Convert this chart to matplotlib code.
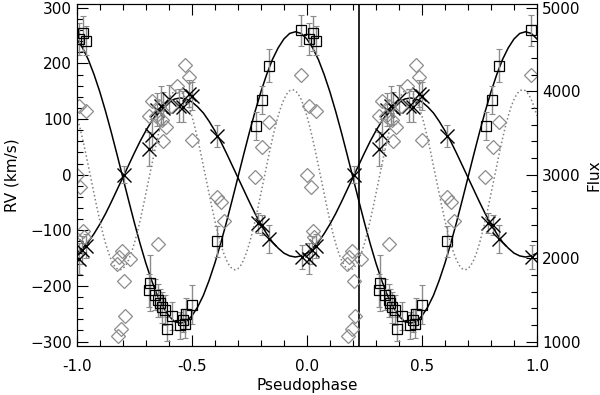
import numpy as np
import matplotlib
matplotlib.use('Agg')
import matplotlib.pyplot as plt
from matplotlib.ticker import MultipleLocator

# phase-folded data, phases in [0, 1), drawn at phase-1 and phase
sq_phase = [0.009, 0.027, 0.040, 0.314, 0.318, 0.340, 0.355, 0.363, 0.372, 0.384, 0.392,
            0.414, 0.448, 0.462, 0.470, 0.476, 0.501, 0.610, 0.778, 0.806, 0.836, 0.973]
sq_rv = [244, 254, 241, -208, -195, -216, -226, -231, -238, -243, -277,
         -254, -271, -262, -268, -250, -234, -120, 88, 135, 196, 260]
sq_err = [28, 32, 26, 30, 50, 28, 30, 25, 28, 27, 22,
          25, 25, 20, 26, 28, 35, 28, 25, 25, 30, 28]

cr_phase = [0.009, 0.023, 0.038, 0.205, 0.314, 0.325, 0.350, 0.364, 0.375, 0.400,
            0.444, 0.463, 0.488, 0.502, 0.611, 0.786, 0.807, 0.837, 0.980]
cr_rv = [-151, -135, -128, 0, 46, 72, 117, 124, 120, 136,
         124, 122, 146, 141, 69, -87, -90, -115, -148]
cr_err = [28, 25, 22, 15, 30, 28, 30, 35, 28, 25,
          30, 28, 25, 25, 20, 18, 18, 25, 22]

fl_phase = [0.000, 0.009, 0.016, 0.027, 0.032, 0.038, 0.176, 0.180, 0.183, 0.194, 0.197,
            0.204, 0.209, 0.233, 0.313, 0.328, 0.343, 0.355, 0.357, 0.372, 0.375, 0.386,
            0.408, 0.437, 0.472, 0.487, 0.502, 0.611, 0.625, 0.640, 0.776, 0.807, 0.837, 0.976]
fl_val = [3000, 3826, 2853, 2321, 2250, 3766, 1930, 1072, 2014, 1152, 2082,
          1722, 1303, 1990, 3707, 3878, 3698, 2174, 3818, 3659, 3399, 3566,
          3818, 4066, 4317, 4170, 3411, 2733, 2673, 2441, 2970, 3327, 3626, 4198]

# fitted orbits, one cycle sampled every 0.025 in phase
model_phase = [i * 0.025 for i in range(40)]
model_sq = [244, 228, 207, 180, 149, 114, 76, 36, -5, -46, -86, -124, -159, -190, -217, -238,
            -254, -264, -267, -264, -254, -238, -217, -190, -159, -124, -86, -46, -5, 36,
            76, 114, 149, 180, 207, 228, 244, 254, 257, 254]
model_cr = [-141, -132, -121, -106, -89, -70, -49, -27, -5, 17, 39, 60, 79, 96, 111, 122,
            131, 136, 138, 136, 131, 122, 111, 96, 79, 60, 39, 17, -5, -27,
            -49, -70, -89, -106, -121, -132, -141, -146, -148, -146]

# light curve model, one half-cycle (period 0.5) sampled every 0.0125
lc_phase = [i * 0.0125 for i in range(40)]
lc_val = [3704, 3575, 3430, 3274, 3109, 2940, 2771, 2606, 2450, 2305, 2176, 2066, 1978, 1913,
          1873, 1860, 1873, 1913, 1978, 2066, 2176, 2305, 2450, 2606, 2771, 2940, 3109, 3274,
          3430, 3575, 3704, 3814, 3902, 3967, 4007, 4020, 4007, 3967, 3902, 3814]

vline_x = 0.226


def fold(ph, vals, offsets):
    x = np.concatenate([np.asarray(ph) + o for o in offsets])
    y = np.concatenate([np.asarray(vals)] * len(offsets))
    return x, y


fig = plt.figure(figsize=(6.0, 3.95), dpi=100)
ax = fig.add_axes([0.128, 0.124, 0.767, 0.866])
ax2 = ax.twinx()

grey = '0.55'

# flux (right axis)
lx, ly = fold(lc_phase, lc_val, [-1, -0.5, 0, 0.5])
lx = np.append(lx, 1.0)
ly = np.append(ly, lc_val[0])
ax2.plot(lx, ly, ':', color='0.5', lw=1.1)
fx, fy = fold(fl_phase, fl_val, [-1, 0])
ax2.plot(fx, fy, 'D', ms=7, mfc='none', mec=grey, mew=0.9, ls='none')

# RV models
mx, ms_ = fold(model_phase, model_sq, [-1, 0])
ax.plot(np.append(mx, 1.0), np.append(ms_, model_sq[0]), '-', color='k', lw=1.1)
mx, mc = fold(model_phase, model_cr, [-1, 0])
ax.plot(np.append(mx, 1.0), np.append(mc, model_cr[0]), '-', color='k', lw=1.1)

# RV points
x, y = fold(sq_phase, sq_rv, [-1, 0])
_, e = fold(sq_phase, sq_err, [-1, 0])
ax.errorbar(x, y, yerr=e, fmt='none', ecolor=grey, elinewidth=1.0, capsize=2.5, capthick=0.8)
ax.plot(x, y, 's', ms=7.5, mfc='none', mec='k', mew=0.9, ls='none')

x, y = fold(cr_phase, cr_rv, [-1, 0])
_, e = fold(cr_phase, cr_err, [-1, 0])
ax.errorbar(x, y, yerr=e, fmt='none', ecolor=grey, elinewidth=1.0, capsize=2.5, capthick=0.8)
ax.plot(x, y, 'x', ms=9.5, mec='k', mew=1.0, ls='none')

ax.axvline(vline_x, color='k', lw=1.2)

ax.set_xlim(-1, 1)
ax.set_ylim(-308, 307)
ax2.set_ylim(3000 - 308 * 2000 / 300, 3000 + 307 * 2000 / 300)

ax.xaxis.set_major_locator(MultipleLocator(0.5))
ax.xaxis.set_minor_locator(MultipleLocator(0.1))
ax.yaxis.set_major_locator(MultipleLocator(100))
ax.yaxis.set_minor_locator(MultipleLocator(20))
ax2.yaxis.set_major_locator(MultipleLocator(1000))
ax2.yaxis.set_minor_locator(MultipleLocator(200))
ax.xaxis.set_major_formatter(plt.FormatStrFormatter('%.1f'))

ax.tick_params(which='both', direction='in', top=True, right=False, labelsize=11, width=0.8)
ax.tick_params(which='major', length=8)
ax.tick_params(which='minor', length=4)
ax.tick_params(axis='x', which='major', pad=9)
ax2.tick_params(which='both', direction='in', labelsize=11, width=0.8)
ax2.tick_params(which='major', length=8)
ax2.tick_params(which='minor', length=4)

ax.set_xlabel('Pseudophase', fontsize=11, labelpad=3)
ax.set_ylabel('RV (km/s)', fontsize=11, labelpad=8)
ax2.set_ylabel('Flux', fontsize=11, labelpad=4)

fig.savefig('out.png', dpi=100)
